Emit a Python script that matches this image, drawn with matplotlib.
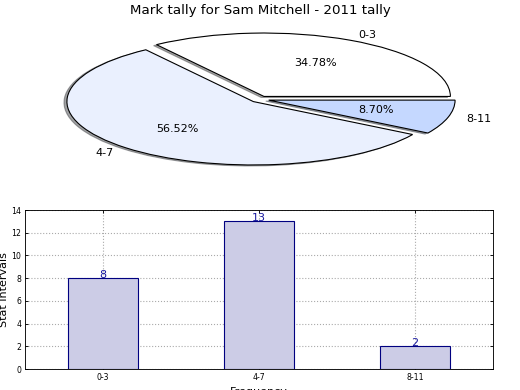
import numpy as np
import matplotlib.pyplot as plt

intervals = ['0-3', '4-7', '8-11']
counts = [8, 13, 2]
pie_colors = ['#ffffff', '#eaf0fe', '#c5d8ff']
explode = [0.05, 0.05, 0.05]

fig = plt.figure(figsize=(6.5, 4.875), dpi=80)

# ------------ Pie ------------ #
ax1 = fig.add_axes([0.0513, 0.5423, 0.8962, 0.4064])
wedges, texts, autotexts = ax1.pie(counts, labels=intervals, colors=pie_colors,
                                   explode=explode, autopct='%1.2f%%',
                                   shadow={'ox': -0.014, 'oy': -0.014, 'shade': 0.7},
                                   startangle=0,
                                   wedgeprops=dict(edgecolor='black', linewidth=1.0),
                                   textprops=dict(fontsize=10))
ax1.set_aspect('auto')
ax1.set_xlim(-1.25, 1.25)
ax1.set_ylim(-1.25, 1.25)
fig.suptitle('Mark tally for Sam Mitchell - 2011 tally', fontsize=12, y=0.99)

# ------------ Bars ------------ #
ax2 = fig.add_axes([0.048, 0.0538, 0.9, 0.4077])
x = np.arange(len(counts))
ax2.bar(x, counts, width=0.45, color=(204/255, 204/255, 230/255),
        edgecolor='navy', linewidth=1.0, zorder=2)
for xi, c in zip(x, counts):
    ax2.text(xi, c, str(c), ha='center', va='baseline', color='#1a1aa0',
             fontsize=10, zorder=3)

ax2.set_xlim(-0.5, 2.5)
ax2.set_ylim(0, 14)
ax2.set_yticks(range(0, 15, 2))
ax2.set_xticks(x)
ax2.set_xticklabels(intervals)
ax2.tick_params(direction='in', labelsize=7, top=True, right=True, length=3)
ax2.grid(True, linestyle=':', color='#aaaaaa', linewidth=1.0, zorder=0)
ax2.set_axisbelow(True)
ax2.set_xlabel('Frequency', fontsize=10, labelpad=5)
ax2.set_ylabel('Stat Intervals', fontsize=10, labelpad=2)

fig.savefig('out.png', dpi=80)
